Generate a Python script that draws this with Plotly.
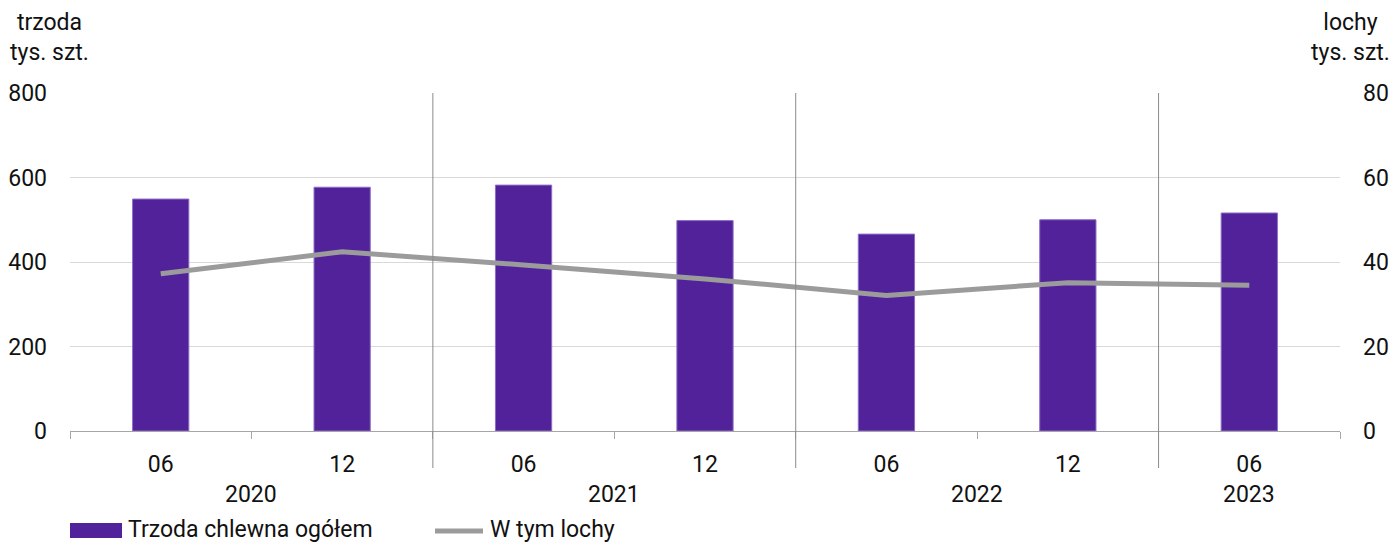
import plotly.graph_objects as go

months = ["06", "12", "06", "12", "06", "12", "06"]
years = ["2020", "2021", "2022", "2023"]
year_centers = [0.5, 2.5, 4.5, 6]
trzoda = [549, 577, 582, 498, 466, 500, 516]
lochy = [37.2, 42.4, 39.3, 36.0, 32.1, 35.1, 34.5]
left_ticks = [0, 200, 400, 600, 800]
right_ticks = [0, 20, 40, 60, 80]

FONT = "Roboto, sans-serif"
FS = 23
x = list(range(len(months)))
W, H = 1392, 543
L, R, T, B = 70, 52, 93, 112
ph = H - T - B

fig = go.Figure()
fig.add_trace(go.Bar(
    x=x, y=trzoda, width=0.31, name="Trzoda chlewna ogółem",
    marker=dict(color="#51229a", line=dict(color="#8e6cc4", width=1)),
    yaxis="y", showlegend=False,
))
fig.add_trace(go.Scatter(
    x=x, y=lochy, mode="lines", name="W tym lochy",
    line=dict(color="#9b9b9b", width=5), yaxis="y2", showlegend=False,
))

shapes = []
for b in [1.5, 3.5, 5.5]:
    shapes.append(dict(type="line", xref="x", yref="paper", x0=b, x1=b,
                       y0=-37 / ph, y1=1, line=dict(color="#8a8a8a", width=1)))

def py(px):
    return (H - B - px) / ph
def pxx(px):
    return (px - L) / (W - L - R)

shapes.append(dict(type="rect", xref="paper", yref="paper",
                   x0=pxx(70), x1=pxx(122), y0=py(538), y1=py(523),
                   fillcolor="#51229a", line=dict(width=0)))
shapes.append(dict(type="line", xref="paper", yref="paper",
                   x0=pxx(435), x1=pxx(483), y0=py(531), y1=py(531),
                   line=dict(color="#9b9b9b", width=5)))

annotations = []
for yr, c in zip(years, year_centers):
    annotations.append(dict(x=c, y=py(494), xref="x", yref="paper", text=yr,
                            showarrow=False, font=dict(size=FS, color="#111"),
                            xanchor="center", yanchor="middle"))
annotations.append(dict(x=pxx(126), y=py(529), xref="paper", yref="paper",
                        text="Trzoda chlewna ogółem", showarrow=False,
                        font=dict(size=FS, color="#111"), xanchor="left", yanchor="middle"))
annotations.append(dict(x=pxx(488), y=py(529), xref="paper", yref="paper",
                        text="W tym lochy", showarrow=False,
                        font=dict(size=FS, color="#111"), xanchor="left", yanchor="middle"))
annotations.append(dict(x=pxx(49), y=py(38), xref="paper", yref="paper",
                        text="trzoda<br>tys. szt.", showarrow=False, align="center",
                        font=dict(size=FS, color="#111"), xanchor="center", yanchor="middle"))
annotations.append(dict(x=pxx(1350), y=py(38), xref="paper", yref="paper",
                        text="lochy<br>tys. szt.", showarrow=False, align="center",
                        font=dict(size=FS, color="#111"), xanchor="center", yanchor="middle"))

fig.update_layout(
    width=W, height=H,
    margin=dict(l=L, r=R, t=T, b=B, pad=0, autoexpand=False),
    plot_bgcolor="white", paper_bgcolor="white",
    font=dict(family=FONT, size=FS, color="#111"),
    xaxis=dict(
        range=[-0.5, 6.5], tickvals=x, ticktext=months, ticks="", automargin=False,
        showgrid=False, zeroline=False, showline=True, linecolor="#a6a6a6", linewidth=1,
        tickfont=dict(size=FS), ticklabelstandoff=12,
        minor=dict(tickvals=[-0.5, 0.5, 1.5, 2.5, 3.5, 4.5, 5.5, 6.5], ticks="outside",
                   ticklen=7, tickcolor="#a6a6a6", tickwidth=1, showgrid=False),
    ),
    yaxis=dict(
        range=[0, 800], tickvals=left_ticks, showgrid=True, gridcolor="#d9d9d9",
        gridwidth=1, zeroline=False, showline=False, ticks="", tickfont=dict(size=FS),
        ticklabelstandoff=22, automargin=False,
    ),
    yaxis2=dict(
        range=[0, 80], tickvals=right_ticks, overlaying="y", side="right",
        showgrid=False, zeroline=False, showline=False, ticks="", tickfont=dict(size=FS),
        ticklabelstandoff=22, automargin=False,
    ),
    shapes=shapes, annotations=annotations,
)

fig.write_html("out.html", config={"displayModeBar": False},
               post_script="document.body.style.margin='0px';document.body.style.padding='0px';")
